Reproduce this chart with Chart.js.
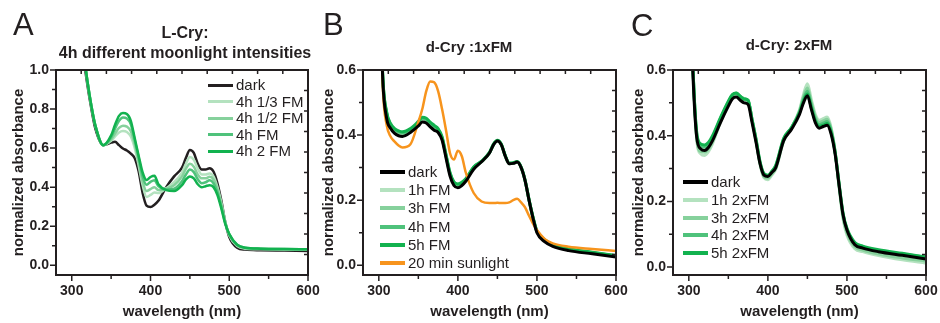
<!DOCTYPE html>
<html>
<head>
<meta charset="utf-8">
<script src="https://cdn.jsdelivr.net/npm/chart.js@4.4.0/dist/chart.umd.min.js"></script>
<style>
  html, body { margin: 0; padding: 0; background: #fff; }
  body { position: relative; width: 940px; height: 323px; overflow: hidden;
         font-family: 'Liberation Sans', Arial, sans-serif; color: #231f20; }
  canvas { position: absolute; top: 0; }
  .letter { position: absolute; font-size: 31px; line-height: 31px; }
  .title { position: absolute; font-weight: bold; font-size: 15px; line-height: 20px;
           text-align: center; white-space: nowrap; transform: translateX(-50%); }
  .row { position: absolute; height: 18px; font-size: 15px; line-height: 18px; white-space: nowrap; }
  .row span { position: absolute; left: 0; width: 25px; }
  .row b { position: absolute; left: 28px; font-weight: normal; }
</style>
</head>
<body>
<canvas id="chartA" width="320" height="323" style="left:0px"></canvas>
<canvas id="chartB" width="320" height="323" style="left:310px"></canvas>
<canvas id="chartC" width="320" height="323" style="left:620px"></canvas>

<div class="letter" style="left:13px;top:9px">A</div>
<div class="letter" style="left:323px;top:9px">B</div>
<div class="letter" style="left:631px;top:10px">C</div>

<div class="title" style="left:185px;top:23px;font-size:16px">L-Cry:<br>4h different moonlight intensities</div>
<div class="title" style="left:469px;top:37px">d-Cry :1xFM</div>
<div class="title" style="left:789px;top:35px">d-Cry: 2xFM</div>

<script>
// wavelength grid (nm), shared by all three panels
const wavelengths = [300, 305, 310, 315, 320, 325, 330, 340, 350, 355, 360, 365, 370, 375, 380, 385, 390, 395, 400, 405,
  410, 420, 430, 440, 445, 450, 455, 460, 465, 470, 475, 480, 485, 490, 495, 500, 510, 520, 540, 570, 600];

// A: L-Cry, 4h different moonlight intensities
const labelsA = ['dark', '4h 1/3 FM', '4h 1/2 FM', '4h FM', '4h 2 FM'];
const aDark = [1.9, 1.6, 1.3, 1.07, 0.92, 0.80, 0.70, 0.615, 0.628, 0.632, 0.615, 0.598, 0.588, 0.572, 0.548, 0.48, 0.37, 0.305, 0.298, 0.31,
  0.33, 0.40, 0.455, 0.50, 0.55, 0.59, 0.575, 0.52, 0.49, 0.49, 0.497, 0.48, 0.42, 0.33, 0.22, 0.145, 0.09, 0.08, 0.077, 0.075, 0.073];
const aThird = [1.95, 1.65, 1.35, 1.1, 0.94, 0.815, 0.715, 0.615, 0.638, 0.66, 0.68, 0.687, 0.682, 0.66, 0.60, 0.51, 0.41, 0.35, 0.36, 0.372,
  0.37, 0.395, 0.425, 0.475, 0.52, 0.555, 0.54, 0.495, 0.465, 0.465, 0.47, 0.455, 0.40, 0.32, 0.22, 0.152, 0.098, 0.085, 0.082, 0.08, 0.079];
const aHalf = [1.95, 1.65, 1.35, 1.1, 0.94, 0.815, 0.715, 0.615, 0.645, 0.675, 0.703, 0.715, 0.71, 0.686, 0.62, 0.53, 0.43, 0.38, 0.39, 0.40,
  0.385, 0.392, 0.41, 0.455, 0.495, 0.52, 0.505, 0.465, 0.445, 0.445, 0.453, 0.44, 0.39, 0.31, 0.22, 0.158, 0.102, 0.088, 0.084, 0.082, 0.081];
const aFull = [1.95, 1.65, 1.35, 1.1, 0.94, 0.815, 0.715, 0.615, 0.655, 0.70, 0.74, 0.757, 0.752, 0.722, 0.64, 0.55, 0.455, 0.412, 0.427, 0.435,
  0.405, 0.388, 0.392, 0.43, 0.465, 0.49, 0.477, 0.44, 0.42, 0.425, 0.435, 0.42, 0.375, 0.30, 0.215, 0.16, 0.105, 0.09, 0.085, 0.083, 0.082];
const aDouble = [1.95, 1.65, 1.35, 1.1, 0.94, 0.815, 0.715, 0.615, 0.665, 0.72, 0.765, 0.78, 0.775, 0.74, 0.65, 0.56, 0.475, 0.437, 0.452, 0.458,
  0.415, 0.385, 0.38, 0.41, 0.44, 0.455, 0.445, 0.415, 0.40, 0.405, 0.41, 0.40, 0.36, 0.29, 0.21, 0.16, 0.105, 0.09, 0.085, 0.083, 0.082];

// B: d-Cry, 1xFM
const labelsB = ['dark', '1h FM', '3h FM', '4h FM', '5h FM', '20 min sunlight'];
const bDark = [1.0, 0.57, 0.45, 0.42, 0.405, 0.398, 0.396, 0.408, 0.428, 0.44, 0.437, 0.425, 0.415, 0.408, 0.385, 0.33, 0.275, 0.245, 0.238, 0.245,
  0.258, 0.295, 0.318, 0.345, 0.37, 0.382, 0.37, 0.335, 0.312, 0.313, 0.317, 0.30, 0.26, 0.20, 0.145, 0.10, 0.072, 0.058, 0.045, 0.035, 0.025];
const b1h = [1.0, 0.58, 0.463, 0.428, 0.413, 0.406, 0.403, 0.413, 0.435, 0.448, 0.445, 0.433, 0.423, 0.413, 0.389, 0.335, 0.28, 0.25, 0.244, 0.25,
  0.261, 0.298, 0.318, 0.345, 0.37, 0.383, 0.37, 0.335, 0.312, 0.313, 0.318, 0.30, 0.26, 0.20, 0.146, 0.103, 0.076, 0.062, 0.049, 0.038, 0.028];
const b3h = [1.0, 0.58, 0.465, 0.43, 0.415, 0.408, 0.405, 0.415, 0.437, 0.45, 0.447, 0.435, 0.425, 0.415, 0.39, 0.336, 0.281, 0.252, 0.246, 0.251,
  0.262, 0.30, 0.318, 0.345, 0.37, 0.383, 0.37, 0.335, 0.312, 0.313, 0.318, 0.30, 0.26, 0.20, 0.146, 0.103, 0.076, 0.062, 0.049, 0.038, 0.028];
const b4h = [1.0, 0.58, 0.467, 0.432, 0.417, 0.41, 0.407, 0.417, 0.439, 0.452, 0.449, 0.437, 0.427, 0.417, 0.392, 0.338, 0.283, 0.254, 0.248, 0.253,
  0.264, 0.301, 0.319, 0.346, 0.371, 0.383, 0.371, 0.336, 0.313, 0.314, 0.318, 0.301, 0.261, 0.201, 0.147, 0.104, 0.077, 0.063, 0.05, 0.039, 0.029];
const b5h = [1.0, 0.58, 0.47, 0.435, 0.42, 0.413, 0.41, 0.42, 0.442, 0.455, 0.452, 0.44, 0.43, 0.42, 0.395, 0.34, 0.285, 0.256, 0.25, 0.255,
  0.266, 0.302, 0.32, 0.347, 0.372, 0.384, 0.372, 0.337, 0.314, 0.315, 0.319, 0.302, 0.262, 0.202, 0.148, 0.105, 0.078, 0.064, 0.051, 0.04, 0.03];
const bSun = [1.0, 0.55, 0.43, 0.395, 0.38, 0.368, 0.362, 0.372, 0.44, 0.48, 0.535, 0.565, 0.562, 0.535, 0.48, 0.415, 0.345, 0.325, 0.352, 0.335,
  0.285, 0.222, 0.196, 0.191, 0.191, 0.192, 0.191, 0.191, 0.193, 0.20, 0.204, 0.193, 0.178, 0.152, 0.128, 0.108, 0.08, 0.067, 0.057, 0.05, 0.044];

// C: d-Cry, 2xFM
const labelsC = ['dark', '1h 2xFM', '3h 2xFM', '4h 2xFM', '5h 2xFM'];
const cDark = [1.0, 0.6, 0.395, 0.36, 0.355, 0.365, 0.385, 0.44, 0.49, 0.512, 0.518, 0.508, 0.50, 0.495, 0.44, 0.38, 0.316, 0.28, 0.276, 0.288,
  0.303, 0.385, 0.42, 0.465, 0.50, 0.522, 0.48, 0.44, 0.423, 0.428, 0.432, 0.405, 0.345, 0.25, 0.16, 0.113, 0.068, 0.058, 0.047, 0.036, 0.025];
const c1h = [1.0, 0.62, 0.39, 0.345, 0.34, 0.352, 0.376, 0.44, 0.497, 0.52, 0.527, 0.518, 0.512, 0.507, 0.447, 0.384, 0.313, 0.272, 0.266, 0.28,
  0.298, 0.383, 0.425, 0.478, 0.525, 0.558, 0.51, 0.465, 0.447, 0.452, 0.457, 0.425, 0.352, 0.245, 0.148, 0.098, 0.056, 0.047, 0.035, 0.022, 0.012];
const c3h = [1.0, 0.62, 0.395, 0.352, 0.35, 0.36, 0.383, 0.445, 0.50, 0.522, 0.53, 0.52, 0.513, 0.508, 0.448, 0.386, 0.316, 0.276, 0.271, 0.284,
  0.302, 0.386, 0.425, 0.475, 0.518, 0.545, 0.50, 0.458, 0.44, 0.445, 0.45, 0.42, 0.352, 0.25, 0.155, 0.105, 0.062, 0.052, 0.04, 0.028, 0.018];
const c4h = [1.0, 0.62, 0.405, 0.368, 0.365, 0.374, 0.395, 0.452, 0.503, 0.523, 0.528, 0.518, 0.51, 0.506, 0.448, 0.388, 0.32, 0.283, 0.278, 0.29,
  0.308, 0.39, 0.425, 0.472, 0.51, 0.535, 0.492, 0.45, 0.433, 0.438, 0.443, 0.415, 0.352, 0.255, 0.163, 0.115, 0.072, 0.061, 0.05, 0.04, 0.03];
const c5h = [1.0, 0.62, 0.41, 0.375, 0.372, 0.38, 0.40, 0.455, 0.505, 0.525, 0.53, 0.52, 0.512, 0.508, 0.45, 0.39, 0.322, 0.285, 0.28, 0.292,
  0.31, 0.392, 0.425, 0.47, 0.505, 0.527, 0.485, 0.445, 0.428, 0.432, 0.437, 0.41, 0.35, 0.255, 0.165, 0.118, 0.075, 0.064, 0.053, 0.042, 0.031];

// tick labels and unlabelled minor ticks
const xTicks = [300, 400, 500, 600];
const xMinor = [350, 450, 550];
const yTicksA = [0, 0.2, 0.4, 0.6, 0.8, 1.0];
const yMinorA = [0.1, 0.3, 0.5, 0.7, 0.9];
const yTicksBC = [0, 0.2, 0.4, 0.6];
const yMinorBC = [0.1, 0.3, 0.5];

const ink = '#231f20';
const greens = ['#b4e2bf', '#86d19c', '#4fc27b', '#12b24f'];
const orange = '#f7941d';
const fontFam = "'Liberation Sans', Arial, sans-serif";
const xMin = 280, xMax = 600;

function pts(vals) {
  return wavelengths.map((w, i) => ({ x: w, y: vals[i] }));
}

// plot box and tick marks, drawn as straight line sets in axis units
// w, h: size of the plot area in pixels, used to turn tick lengths into units
function frameSets(yMin, yMax, yMajor, yMinor, w, h) {
  const ux = (xMax - xMin) / w, uy = (yMax - yMin) / h;
  const ticks = [];
  const seg = (x1, y1, x2, y2) => { ticks.push({ x: x1, y: y1 }, { x: x2, y: y2 }, { x: x2, y: null }); };
  yMajor.forEach(v => seg(xMin - 6 * ux, v, xMin, v));
  yMinor.forEach(v => seg(xMin - 4 * ux, v, xMin, v));
  xTicks.forEach(v => seg(v, yMin, v, yMin - 6 * uy));
  xMinor.forEach(v => seg(v, yMin, v, yMin - 4 * uy));
  for (let k = 1; k < 10; k++) {
    const yv = yMin + (yMax - yMin) * k / 10;
    const xv = xMin + (xMax - xMin) * k / 10;
    seg(xMax, yv, xMax - 4 * ux, yv);
    seg(xv, yMax, xv, yMax - 4 * uy);
  }
  const box = [{ x: xMin, y: yMin }, { x: xMax, y: yMin }, { x: xMax, y: yMax }, { x: xMin, y: yMax }, { x: xMin, y: yMin }];
  const common = { borderColor: ink, backgroundColor: ink, clip: false, order: -1, fill: false,
                   tension: 0, cubicInterpolationMode: 'default', spanGaps: false, pointRadius: 0 };
  return [
    Object.assign({ label: 'frame', data: box, borderWidth: 2, borderCapStyle: 'square', borderJoinStyle: 'miter' }, common),
    Object.assign({ label: 'ticks', data: ticks, borderWidth: 1.5, borderCapStyle: 'butt' }, common)
  ];
}

function makePanel(id, datasets, yMin, yMax, yMajor, yMinor, yWidth, padRight) {
  const w = 320 - yWidth - padRight, h = 323 - 70 - 48;
  return new Chart(document.getElementById(id), {
    type: 'line',
    data: { datasets: datasets.concat(frameSets(yMin, yMax, yMajor, yMinor, w, h)) },
    options: {
      responsive: false,
      animation: false,
      layout: { padding: { top: 70, right: padRight, left: 0, bottom: 0 } },
      elements: {
        point: { radius: 0 },
        line: { cubicInterpolationMode: 'monotone' }
      },
      plugins: {
        legend: { display: false },
        tooltip: { enabled: false }
      },
      scales: {
        x: {
          type: 'linear', min: xMin, max: xMax,
          afterBuildTicks: s => { s.ticks = xTicks.map(v => ({ value: v })); },
          afterFit: s => { s.height = 48; s.paddingLeft = 0; s.paddingRight = 0; },
          grid: { display: false, drawTicks: true, tickLength: 5 },
          border: { display: false },
          ticks: { padding: 3, autoSkip: false, maxRotation: 0, color: ink, font: { family: fontFam, size: 14, weight: 'bold' } },
          title: { display: true, text: 'wavelength (nm)', color: ink, padding: { top: 2, bottom: 2 },
                   font: { family: fontFam, size: 15, weight: 'bold' } }
        },
        y: {
          type: 'linear', min: yMin, max: yMax,
          afterBuildTicks: s => { s.ticks = yMajor.map(v => ({ value: v })); },
          afterFit: s => { s.width = yWidth; },
          grid: { display: false, drawTicks: true, tickLength: 5 },
          border: { display: false },
          ticks: { padding: 2, color: ink, callback: v => v.toFixed(1), font: { family: fontFam, size: 14, weight: 'bold' } },
          title: { display: true, text: 'normalized absorbance', color: ink, padding: { top: 10, bottom: 0 },
                   font: { family: fontFam, size: 15, weight: 'bold' } }
        }
      }
    }
  });
}

function line(label, vals, color, width, order) {
  return { label: label, data: pts(vals), borderColor: color, backgroundColor: color,
           borderWidth: width, order: order, fill: false };
}

const setsA = [
  line(labelsA[0], aDark, ink, 2.5, 5),
  line(labelsA[1], aThird, greens[0], 2.5, 4),
  line(labelsA[2], aHalf, greens[1], 2.5, 3),
  line(labelsA[3], aFull, greens[2], 2.5, 2),
  line(labelsA[4], aDouble, greens[3], 2.5, 1)
];
const setsB = [
  line(labelsB[0], bDark, '#000', 3, 0),
  line(labelsB[1], b1h, greens[0], 3, 5),
  line(labelsB[2], b3h, greens[1], 3, 4),
  line(labelsB[3], b4h, greens[2], 3, 3),
  line(labelsB[4], b5h, greens[3], 3, 2),
  line(labelsB[5], bSun, orange, 2.5, 1)
];
const setsC = [
  line(labelsC[0], cDark, '#000', 3, 0),
  line(labelsC[1], c1h, greens[0], 3, 4),
  line(labelsC[2], c3h, greens[1], 3, 3),
  line(labelsC[3], c4h, greens[2], 3, 2),
  line(labelsC[4], c5h, greens[3], 3, 1)
];

makePanel('chartA', setsA, -0.05, 1.0, yTicksA, yMinorA, 56, 12);
makePanel('chartB', setsB, -0.03, 0.6, yTicksBC, yMinorBC, 53, 14);
makePanel('chartC', setsC, -0.024, 0.6, yTicksBC, yMinorBC, 53, 14);

// legends inside each plot
function legend(sets, left, firstY, step, thick) {
  sets.forEach((ds, i) => {
    const row = document.createElement('div');
    row.className = 'row';
    row.style.left = left + 'px';
    row.style.top = (firstY + i * step - 9) + 'px';
    row.innerHTML = '<span style="top:' + (9 - thick / 2) + 'px;height:' + thick + 'px;background:' +
      ds.borderColor + '"></span><b>' + ds.label + '</b>';
    document.body.appendChild(row);
  });
}
legend(setsA, 208, 85, 16.6, 3);
legend(setsB, 380, 172, 18.2, 4);
legend(setsC, 683, 182, 17.8, 4);
</script>
</body>
</html>
